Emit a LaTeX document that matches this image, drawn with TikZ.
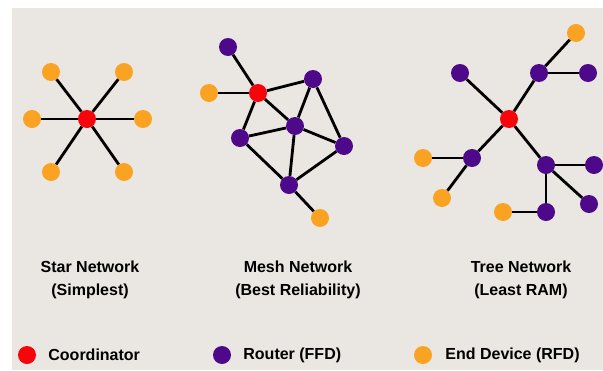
\documentclass[tikz,border=0pt]{standalone}
\usepackage{fontspec}
\setmainfont{Liberation Sans}
\usetikzlibrary{positioning}
\definecolor{bg}{RGB}{234,230,225}
\definecolor{coordred}{RGB}{246,6,10}
\definecolor{routerpurple}{RGB}{78,8,138}
\definecolor{endorange}{RGB}{250,163,34}

\begin{document}
\begin{tikzpicture}[x=1pt,y=-1pt,
    coord/.style={circle,fill=coordred,inner sep=0pt,minimum size=18pt},
    router/.style={circle,fill=routerpurple,inner sep=0pt,minimum size=18pt},
    enddev/.style={circle,fill=endorange,inner sep=0pt,minimum size=18pt},
    link/.style={line width=2.8pt},
    title/.style={align=center,font=\bfseries\fontsize{16}{23}\selectfont},
    legtext/.style={inner sep=0pt,font=\bfseries\fontsize{16}{20}\selectfont}]
\useasboundingbox (0,0) rectangle (603,370);
\fill[bg] (12,8) rectangle (603,370);

% star
\node[coord] (sc) at (87,119) {};
\foreach \i/\x/\y in {1/51/72,2/124/72,3/32/119,4/143/119,5/51/172,6/124/172}
   {\node[enddev] (s\i) at (\x,\y) {};
    \draw[link] (sc) -- (s\i);}

% mesh
\node[coord] (mc) at (258,93) {};
\node[router] (mtl) at (228,47) {};
\node[enddev] (mel) at (209,93) {};
\node[router] (mtr) at (313,79) {};
\node[router] (mmid) at (295,126) {};
\node[router] (ml) at (240,138) {};
\node[router] (mr) at (344,146) {};
\node[router] (mb) at (289,185) {};
\node[enddev] (meb) at (320,218) {};
\foreach \a/\b in {mc/mtl,mc/mel,mc/mtr,mc/mmid,mc/ml,ml/mmid,mtr/mmid,mtr/mr,
                   mmid/mr,mmid/mb,ml/mb,mr/mb,mb/meb}
    \draw[link] (\a) -- (\b);

% tree
\node[coord] (tc) at (509,119) {};
\node[router] (ttl) at (460,73) {};
\node[router] (tt) at (539,73) {};
\node[enddev] (tet) at (576,33) {};
\node[router] (ttr) at (588,73) {};
\node[router] (tl) at (472,158) {};
\node[enddev] (tel) at (423,158) {};
\node[enddev] (tell) at (442,198) {};
\node[router] (tr) at (546,165) {};
\node[router] (trr) at (594,165) {};
\node[router] (trl) at (589,204) {};
\node[router] (tb) at (546,212) {};
\node[enddev] (teb) at (503,212) {};
\foreach \a/\b in {tc/ttl,tc/tt,tt/tet,tt/ttr,tc/tl,tl/tel,tl/tell,tc/tr,
                   tr/trr,tr/trl,tr/tb,tb/teb}
    \draw[link] (\a) -- (\b);

% titles
\node[title] (startitle) at (90,280) {Star Network\\(Simplest)};
\node[title] (meshtitle) at (298,280) {Mesh Network\\(Best Reliability)};
\node[title] (treetitle) at (521,280) {Tree Network\\(Least RAM)};

% legend
\node[coord] (lc) at (27,355) {};
\node[router] (lr) at (222,355) {};
\node[enddev] (le) at (423,355) {};
\node[legtext,right=12pt of lc] (lctext) {Coordinator};
\node[legtext,right=12pt of lr] (lrtext) {Router (FFD)};
\node[legtext,right=13pt of le] (letext) {End Device (RFD)};
\end{tikzpicture}
\end{document}
